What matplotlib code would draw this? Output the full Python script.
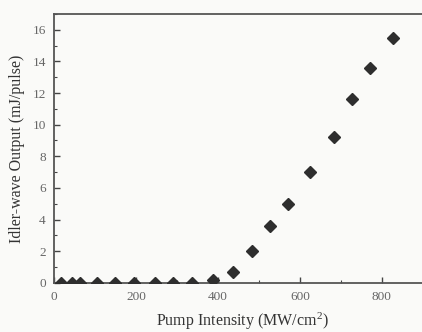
import matplotlib
matplotlib.use('Agg')
import matplotlib.pyplot as plt
from matplotlib.ticker import MultipleLocator

# pump intensity (MW/cm^2) and idler output (mJ/pulse)
intensity = [16, 43, 63, 104, 149, 195, 246, 290, 337, 388,
             437, 483, 527, 571, 624, 683, 727, 771, 827]
output = [0, 0, 0, 0, 0, 0, 0, 0, 0, 0.15,
          0.7, 2.0, 3.6, 5.0, 7.0, 9.2, 11.6, 13.6, 15.5]

plt.rcParams['font.family'] = ['Liberation Serif', 'DejaVu Serif']
plt.rcParams['mathtext.fontset'] = 'custom'
plt.rcParams['mathtext.rm'] = 'Liberation Serif'
plt.rcParams['mathtext.default'] = 'regular'

fig = plt.figure(figsize=(4.22, 3.32), dpi=100, facecolor='#fafaf8')
ax = fig.add_axes([0.128, 0.148, 0.874, 0.81])
ax.set_facecolor('#fafaf8')

ax.plot(intensity, output, 'D', color='#2e2e2e', markersize=6.5, zorder=3)

ax.set_xlim(0, 900)
ax.set_ylim(0, 17)
ax.xaxis.set_major_locator(MultipleLocator(200))
ax.xaxis.set_minor_locator(MultipleLocator(100))
ax.yaxis.set_major_locator(MultipleLocator(2))
ax.yaxis.set_minor_locator(MultipleLocator(1))
ax.tick_params(which='both', direction='in', colors='#444444', labelcolor='#666666',
               labelsize=9.5, top=False, right=False)
ax.tick_params(which='major', length=4, width=1, pad=6)
ax.tick_params(which='minor', length=2, width=0.8)

for s in ax.spines.values():
    s.set_color('#555555')
    s.set_linewidth(1.3)

ax.set_xlabel('Pump Intensity (MW/cm$^2$)', fontsize=11.5, color='#333333')
ax.set_ylabel('Idler-wave Output (mJ/pulse)', fontsize=11.5, color='#333333')
ax.xaxis.set_label_coords(0.51, -0.105)
ax.yaxis.set_label_coords(-0.078, 0.5)

fig.savefig('out.png', dpi=100, facecolor=fig.get_facecolor())
